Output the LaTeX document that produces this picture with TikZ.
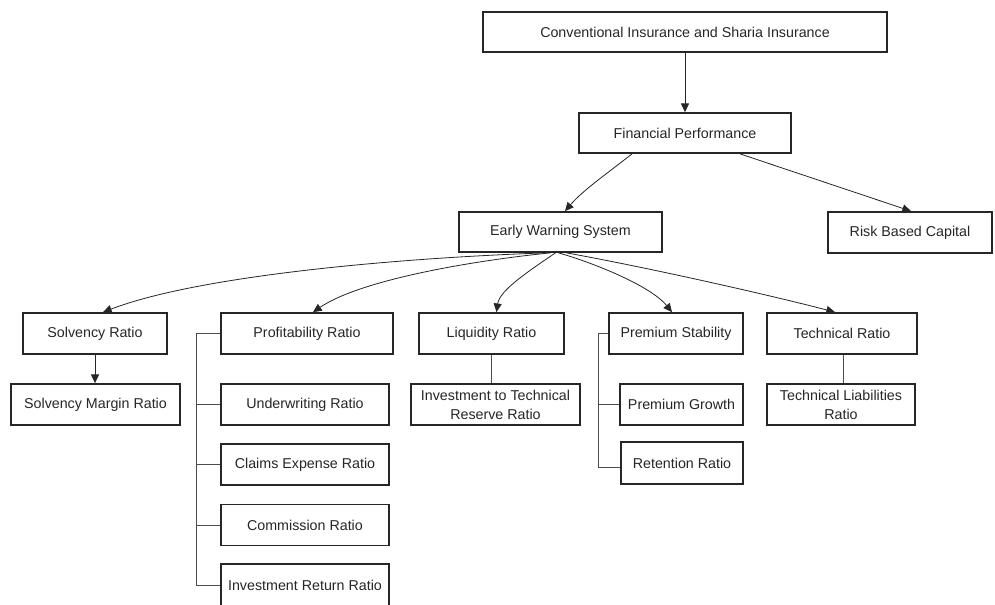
\documentclass[tikz,border=0pt]{standalone}
\usepackage{fontspec}
\setmainfont{Liberation Sans}
\usetikzlibrary{arrows.meta,calc}
\tikzset{
  box/.style={draw=black!85,line width=1.3pt,fill=white,inner sep=0pt,align=center,
    font=\fontsize{10.7pt}{14.2pt}\selectfont,text=black!85},
  sz/.style 2 args={minimum width=#1*0.75pt,minimum height=#2*0.75pt},
  arr/.style={draw=black!85,line width=0.6pt,-{Triangle[length=6.5pt,width=6pt]}},
  link/.style={draw=black!70,line width=0.6pt}
}
\begin{document}
\begin{tikzpicture}[x=0.75pt,y=-0.75pt]
\fill[white] (0,0) rectangle (995,604);
\useasboundingbox (0,0) rectangle (995,604);
% nodes
\node[box,sz={404}{40}] (top) at (685,32) {Conventional Insurance and Sharia Insurance};
\node[box,sz={212}{40}] (fp) at (685,133) {Financial Performance};
\node[box,sz={203}{40}] (ews) at (560.5,232) {Early Warning System};
\node[box,sz={164}{41}] (rbc) at (910,232.5) {Risk Based Capital};
\node[box,sz={144}{41}] (sr) at (95,333.5) {Solvency Ratio};
\node[box,sz={172}{41}] (pr) at (307,333.5) {Profitability Ratio};
\node[box,sz={145}{41}] (lr) at (491.5,333.5) {Liquidity Ratio};
\node[box,sz={134}{41}] (ps) at (676,333.5) {Premium Stability};
\node[box,sz={150}{41}] (tr) at (842,333.5) {Technical Ratio};
\node[box,sz={169}{41}] (smr) at (95.5,404.5) {Solvency Margin Ratio};
\node[box,sz={168}{41}] (ur) at (305,404.5) {Underwriting Ratio};
\node[box,sz={169}{41}] (itr) at (495.5,404.5) {Investment to Technical\\Reserve Ratio};
\node[box,sz={123}{41}] (pg) at (681.5,404.5) {Premium Growth};
\node[box,sz={148}{41}] (tlr) at (841,404.5) {Technical Liabilities\\Ratio};
\node[box,sz={168}{41}] (cer) at (305,464.5) {Claims Expense Ratio};
\node[box,sz={122}{42}] (rr) at (682,463) {Retention Ratio};
\node[box,sz={168}{41}] (cr) at (305,525) {Commission Ratio};
\node[box,sz={168}{43}] (irr) at (305,585.5) {Investment Return Ratio};
% top connectors
\draw[arr] (top.south) -- (fp.north);
\draw[arr] ($(fp.south)+(-53,0)$) .. controls +(-24,19) and +(18,-21) .. ($(ews.north)+(4.5,0)$);
\draw[arr] ($(fp.south)+(55,0)$) -- ($(rbc.north)+(1,0)$);
% early warning system fan
\draw[arr] ($(ews.south)+(-15,0)$) .. controls +(-145,5) and +(97,-37) .. ($(sr.north)+(8,0)$);
\draw[arr] ($(ews.south)+(-10,0)$) .. controls +(-80,8) and +(47,-32) .. ($(pr.north)+(6,0)$);
\draw[arr] ($(ews.south)+(-5,0)$) .. controls +(-25,17) and +(3,-22) .. ($(lr.north)+(5,0)$);
\draw[arr] ($(ews.south)+(-2,0)$) .. controls +(32,9) and +(-22,-27) .. ($(ps.north)+(-4,0)$);
\draw[arr] ($(ews.south)+(6,0)$) .. controls +(83,15) and +(-65,-17) .. ($(tr.north)+(-7,0)$);
% second level
\draw[arr] (sr.south) -- (sr.south |- smr.north);
\draw[link] (lr.south) -- (lr.south |- itr.north);
\draw[link] ($(tr.south)+(1,0)$) -- ($(tr.south |- tlr.north)+(1,0)$);
% profitability bracket
\draw[link] (pr.west) -- ++(-24,0) coordinate (pb) |- (irr.west);
\draw[link] (pb |- ur.west) -- (ur.west);
\draw[link] (pb |- cer.west) -- (cer.west);
\draw[link] (pb |- cr.west) -- (cr.west);
% premium bracket
\draw[link] (ps.west) -- ++(-10,0) coordinate (psb) |- ($(rr.west)+(0,4)$);
\draw[link] (psb |- pg.west) -- (pg.west);
\end{tikzpicture}
\end{document}
